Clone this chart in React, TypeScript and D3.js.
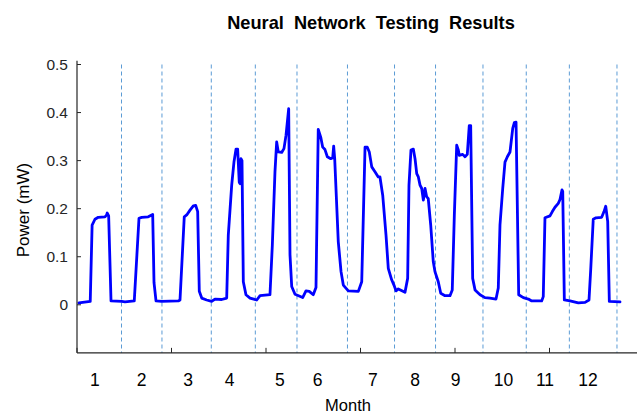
import React from "react";
import * as d3 from "d3";

// Sample index along the test run
const sampleIdx = [
  2, 14, 16, 19, 22.5, 29.6, 31.4, 32, 33.5, 36, 47.3, 50.8, 60.6, 65.6, 68.5, 75.4, 80.1, 81.5, 83.6, 89.6,
  107.2, 109, 113.5, 116.1, 119.6, 123.1, 125.6, 127.7, 129.4, 132, 137.2, 142.5, 146, 153.1, 158.4,
  160.1, 163.7, 166.1, 168.3, 170, 171.7, 172.5, 173.5, 174.6, 176, 178.8, 183.1, 190.2, 193.7, 204.2,
  206.7, 209.5, 211.3, 213, 216.6, 219, 221.2, 224, 225.4, 227.2, 230.7, 238.8, 242.3, 245.8, 250, 252.9,
  255.3, 257.9, 260, 262.4, 264.9, 268.5, 270.6, 271.6, 272.7, 276.5, 279.4, 281.8, 287.1, 297.7, 301.3,
  304.8, 307.2, 309.3, 311.9, 315.3, 318.8, 320.6, 323.5, 327, 329.4, 333, 335.4, 337.6, 340, 347.1, 349.9,
  351.3, 353.4, 355.9, 357.7, 359.5, 361.2, 363, 364.8, 366.5, 368.3, 370, 371.7, 374.3, 377, 378.8, 382.3,
  384.9, 389.4, 394.7, 397.1, 399.3, 401.8, 403.5, 404.5, 408.1, 410.6, 413, 415.1, 416.6, 418.7, 421.2,
  426.5, 431.7, 437, 443.4, 445.8, 447.6, 450.5, 452.9, 455.4, 458.2, 461.1, 462.8, 464.6, 467.4, 472.3,
  477.6, 481.2, 491.7, 493.4, 495.2, 500.5, 503, 505.8, 509.3, 511.1, 513.2, 514, 515.7, 521.7, 530.5,
  537.6, 541.8, 543.6, 546.3, 549.2, 555.2, 557.7, 559.5, 561.6, 563.3, 574.6,
];

// Measured power (mW) at each sample
const powerMw = [
  0.004, 0.007, 0.166, 0.178, 0.182, 0.183, 0.187, 0.191, 0.185, 0.008, 0.007, 0.006, 0.008, 0.18, 0.182, 0.183, 0.188, 0.046, 0.008, 0.007,
  0.008, 0.01, 0.183, 0.187, 0.197, 0.206, 0.207, 0.194, 0.028, 0.014, 0.01, 0.007, 0.012, 0.011, 0.014,
  0.145, 0.249, 0.297, 0.324, 0.324, 0.255, 0.252, 0.304, 0.3, 0.048, 0.021, 0.014, 0.01, 0.019, 0.021,
  0.124, 0.277, 0.339, 0.318, 0.317, 0.325, 0.353, 0.408, 0.104, 0.038, 0.022, 0.015, 0.029, 0.028, 0.021, 0.036,
  0.365, 0.349, 0.328, 0.323, 0.308, 0.304, 0.306, 0.33, 0.304, 0.131, 0.069, 0.041, 0.029, 0.028, 0.048,
  0.328, 0.328, 0.318, 0.287, 0.277, 0.266, 0.266, 0.228, 0.145, 0.076, 0.052, 0.041, 0.029, 0.033, 0.026, 0.055,
  0.249, 0.322, 0.324, 0.304, 0.273, 0.266, 0.249, 0.242, 0.218, 0.242, 0.225, 0.221, 0.166, 0.09, 0.069, 0.048,
  0.024, 0.019, 0.019, 0.031, 0.187, 0.332, 0.322, 0.311, 0.313, 0.308, 0.313, 0.373, 0.373, 0.055, 0.031,
  0.021, 0.015, 0.014, 0.012, 0.035, 0.166, 0.242, 0.297, 0.308, 0.318, 0.367, 0.379, 0.38, 0.021, 0.015,
  0.012, 0.008, 0.008, 0.017, 0.181, 0.185, 0.194, 0.203, 0.211, 0.219, 0.239, 0.236, 0.01, 0.008, 0.004,
  0.005, 0.01, 0.073, 0.178, 0.181, 0.182, 0.194, 0.205, 0.173, 0.007, 0.006,
];

// Month boundaries (dashed separators), in sample index
const monthBoundaries = [47.1, 89.9, 142.1, 188.7, 232.8, 286.2, 336, 379.4, 429.6, 475.4, 521, 571.4];

// Month labels and where they sit along the sample axis
const monthLabels = ["1", "2", "3", "4", "5", "6", "7", "8", "9", "10", "11", "12"];
const monthLabelPos = [19, 68.5, 117.5, 161.6, 214.8, 254.6, 313, 357.7, 400.6, 451.3, 495.2, 540.7];

// Axis ticks
const xTickValues = [0, 100, 200, 300, 400, 500, 600];
const yTickValues = [0, 0.1, 0.2, 0.3, 0.4, 0.5];

const W = 637;
const H = 414;
const FONT = "'Liberation Sans', Arial, sans-serif";
const AXIS = "#262626";

export default function App() {
  const x = d3.scaleLinear().domain([0, 600]).range([77, 644]);
  const y = d3.scaleLinear().domain([0, 0.5]).range([304.8, 64.5]);
  const yBottom = y(-0.1);
  const yTop = y(0.508);

  const pts: [number, number][] = sampleIdx.map((s, i) => [s, powerMw[i]]);
  const line = d3
    .line<[number, number]>()
    .x((d) => x(d[0]))
    .y((d) => y(d[1]));

  return (
    <svg
      width={W}
      height={H}
      style={{ position: "absolute", left: 0, top: 0, background: "#fff" }}
      fontFamily={FONT}
    >
      <rect width={W} height={H} fill="#fff" />

      {/* month separators */}
      {monthBoundaries.map((b, i) => (
        <line
          key={"b" + i}
          x1={x(b)}
          x2={x(b)}
          y1={y(0.5)}
          y2={yBottom}
          stroke="#5b9bd5"
          strokeWidth={1}
          strokeDasharray="4,3"
        />
      ))}

      {/* power trace */}
      <path
        d={line(pts) || ""}
        fill="none"
        stroke="#0000ff"
        strokeWidth={2.8}
        strokeLinejoin="round"
        strokeLinecap="round"
      />

      {/* y axis */}
      <line x1={77} x2={77} y1={yTop} y2={yBottom} stroke={AXIS} strokeWidth={1.2} />
      {yTickValues.map((t) => (
        <g key={"y" + t}>
          <line x1={77} x2={81} y1={y(t)} y2={y(t)} stroke={AXIS} strokeWidth={1} />
          <text
            x={68}
            y={y(t)}
            textAnchor="end"
            dominantBaseline="central"
            fontSize={15.5}
            fill={AXIS}
          >
            {t === 0 ? "0" : t.toFixed(1)}
          </text>
        </g>
      ))}

      {/* x axis */}
      <line x1={77} x2={W} y1={yBottom} y2={yBottom} stroke={AXIS} strokeWidth={1.2} />
      {xTickValues.map((t) => (
        <line key={"x" + t} x1={x(t)} x2={x(t)} y1={yBottom} y2={yBottom - 5} stroke={AXIS} strokeWidth={1} />
      ))}
      {monthLabels.map((m, i) => (
        <text
          key={"m" + i}
          x={x(monthLabelPos[i])}
          y={380}
          textAnchor="middle"
          dominantBaseline="central"
          fontSize={17.5}
          fill="#000"
        >
          {m}
        </text>
      ))}

      {/* labels */}
      <text x={348} y={405} textAnchor="middle" dominantBaseline="central" fontSize={16.5} fill="#000">
        Month
      </text>
      <text
        transform={`translate(23,${210}) rotate(-90)`}
        textAnchor="middle"
        dominantBaseline="central"
        fontSize={17}
        fill="#000"
      >
        Power (mW)
      </text>
      <text
        x={371}
        y={23}
        textAnchor="middle"
        dominantBaseline="central"
        fontSize={18.2}
        fontWeight="bold"
        wordSpacing={5}
        fill="#000"
      >
        Neural Network Testing Results
      </text>
    </svg>
  );
}
